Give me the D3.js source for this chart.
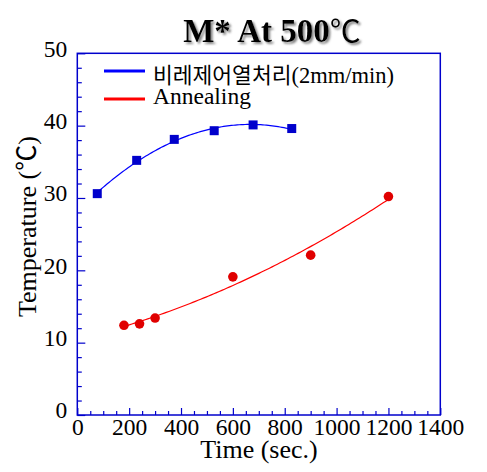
<!DOCTYPE html>
<html>
<head>
<meta charset="utf-8">
<script src="https://cdn.jsdelivr.net/npm/d3@7"></script>
<style>
  html, body { margin: 0; padding: 0; background: #fff; }
  svg { display: block; }
  text { font-family: "Liberation Serif", "Noto Sans CJK KR", serif; fill: #000; }
</style>
</head>
<body>
<svg id="chart" width="487" height="472"></svg>
<script>
// ---- data ----
const titleMain = "M* At 500";
const titleUnit = "\u2103";
const xLabel = "Time (sec.)";
const yLabel = "Temperature (\u2103)";
const seriesKorean = "비레제어열처리";
const seriesLatin = "(2mm/min)";
const seriesNames = [seriesKorean + seriesLatin, "Annealing"];

const controlTime = [77, 229, 374, 528, 678, 827];
const controlTemp = [30.6, 35.2, 38.1, 39.3, 40.1, 39.6];

const annealTime = [180, 240, 300, 600, 900, 1200];
const annealTemp = [12.4, 12.6, 13.4, 19.1, 22.1, 30.2];

const xMajorTicks = [0, 200, 400, 600, 800, 1000, 1200, 1400];
const yMajorTicks = [0, 10, 20, 30, 40, 50];

// ---- layout ----
const svg = d3.select("#chart");
const L = 77.3, R = 440.3, T = 53.3, B = 415;
const x = d3.scaleLinear().domain([0, 1400]).range([L, R]);
const y = d3.scaleLinear().domain([0, 50]).range([B, T]);
const axisColor = "#0000CC";

// quadratic least-squares fit
function quadFit(xs, ys) {
  let s = [0,0,0,0,0], t = [0,0,0];
  xs.forEach((xv, i) => {
    const yv = ys[i];
    for (let k = 0; k < 5; k++) s[k] += Math.pow(xv, k);
    for (let k = 0; k < 3; k++) t[k] += yv * Math.pow(xv, k);
  });
  const M = [[s[0], s[1], s[2], t[0]], [s[1], s[2], s[3], t[1]], [s[2], s[3], s[4], t[2]]];
  for (let i = 0; i < 3; i++) {
    let p = i;
    for (let r = i + 1; r < 3; r++) if (Math.abs(M[r][i]) > Math.abs(M[p][i])) p = r;
    [M[i], M[p]] = [M[p], M[i]];
    for (let r = 0; r < 3; r++) {
      if (r === i) continue;
      const f = M[r][i] / M[i][i];
      for (let c = i; c < 4; c++) M[r][c] -= f * M[i][c];
    }
  }
  const a = M.map((row, i) => row[3] / row[i]);
  return xv => a[0] + a[1] * xv + a[2] * xv * xv;
}

// defs: title shadow
const defs = svg.append("defs");
const f = defs.append("filter").attr("id", "shadow").attr("x", "-10%").attr("y", "-20%").attr("width", "130%").attr("height", "160%");
f.append("feDropShadow").attr("dx", 2).attr("dy", 2).attr("stdDeviation", 1.3).attr("flood-color", "#666").attr("flood-opacity", 0.8);

// title
const tt = svg.append("text").attr("x", 272).attr("y", 42).attr("text-anchor", "middle")
  .attr("font-size", 33).attr("font-weight", "bold").attr("filter", "url(#shadow)");
tt.append("tspan").text(titleMain);
tt.append("tspan").attr("font-weight", "normal").attr("font-size", 31).text(titleUnit);

// axes
const gx = svg.append("g").attr("transform", `translate(0,${B})`)
  .call(d3.axisBottom(x).tickValues(xMajorTicks).tickSize(-7).tickPadding(5).tickFormat(d3.format("d")));
const gxm = svg.append("g").attr("transform", `translate(0,${B})`)
  .call(d3.axisBottom(x).tickValues(d3.range(0, 1401, 50).filter(v => v % 200 !== 0)).tickSize(-4).tickFormat(""));
const gy = svg.append("g").attr("transform", `translate(${L},0)`)
  .call(d3.axisLeft(y).tickValues(yMajorTicks).tickSize(-8).tickPadding(10).tickFormat(d3.format("d")));
const gym = svg.append("g").attr("transform", `translate(${L},0)`)
  .call(d3.axisLeft(y).tickValues(d3.range(0, 51, 2).filter(v => v % 10 !== 0)).tickSize(-4.5).tickFormat(""));

[gx, gxm, gy, gym].forEach(g => {
  g.select(".domain").remove();
  g.selectAll(".tick line").attr("stroke", axisColor).attr("stroke-width", 1.2);
  g.selectAll("text").attr("font-size", 23.5).attr("fill", "#000")
    .style("font-family", '"Liberation Serif", serif');
});
gy.selectAll("text").attr("dy", "0.12em");
gx.selectAll("text").attr("dy", "0.62em");

// frame
svg.append("rect").attr("x", L).attr("y", T).attr("width", R - L).attr("height", B - T)
  .attr("fill", "none").attr("stroke", axisColor).attr("stroke-width", 1.5);

// axis labels
svg.append("text").attr("x", 259).attr("y", 458).attr("text-anchor", "middle")
  .attr("font-size", 26).text(xLabel);
svg.append("text").attr("transform", "translate(36,317) rotate(-90)").attr("text-anchor", "start")
  .attr("font-size", 26).text(yLabel);

// fits
const line = d3.line().x(d => x(d[0])).y(d => y(d[1]));
const fitC = quadFit(controlTime, controlTemp);
const fitA = quadFit(annealTime, annealTemp);
const cMin = d3.min(controlTime), cMax = d3.max(controlTime);
const aMin = d3.min(annealTime), aMax = d3.max(annealTime);
svg.append("path").attr("d", line(d3.range(0, 101).map(i => { const t = cMin + (cMax - cMin) * i / 100; return [t, fitC(t)]; })))
  .attr("fill", "none").attr("stroke", "#0000FF").attr("stroke-width", 1.2);
svg.append("path").attr("d", line(d3.range(0, 101).map(i => { const t = aMin + (aMax - aMin) * i / 100; return [t, fitA(t)]; })))
  .attr("fill", "none").attr("stroke", "#FF0000").attr("stroke-width", 1.2);

// markers
const sq = 9;
svg.append("g").selectAll("rect").data(controlTime.map((t, i) => [t, controlTemp[i]])).join("rect")
  .attr("x", d => x(d[0]) - sq / 2).attr("y", d => y(d[1]) - sq / 2)
  .attr("width", sq).attr("height", sq).attr("fill", "#0000CC");
svg.append("g").selectAll("circle").data(annealTime.map((t, i) => [t, annealTemp[i]])).join("circle")
  .attr("cx", d => x(d[0])).attr("cy", d => y(d[1])).attr("r", 4.8).attr("fill", "#E00000");

// legend
const legend = svg.append("g");
const legColors = ["#0000FF", "#FF0000"];
const legY = [71, 99];
const legBase = [83, 104];
seriesNames.forEach((n, i) => {
  legend.append("line").attr("x1", 104).attr("x2", 145).attr("y1", legY[i]).attr("y2", legY[i])
    .attr("stroke", legColors[i]).attr("stroke-width", 3);
});
const l1 = legend.append("text").attr("x", 153).attr("y", legBase[0]).attr("font-size", 22);
l1.append("tspan").attr("font-size", 21.5).text(seriesKorean);
l1.append("tspan").attr("font-size", 22.5).text(seriesLatin);
legend.append("text").attr("x", 153).attr("y", legBase[1]).attr("font-size", 23.5).text(seriesNames[1]);
</script>
</body>
</html>
